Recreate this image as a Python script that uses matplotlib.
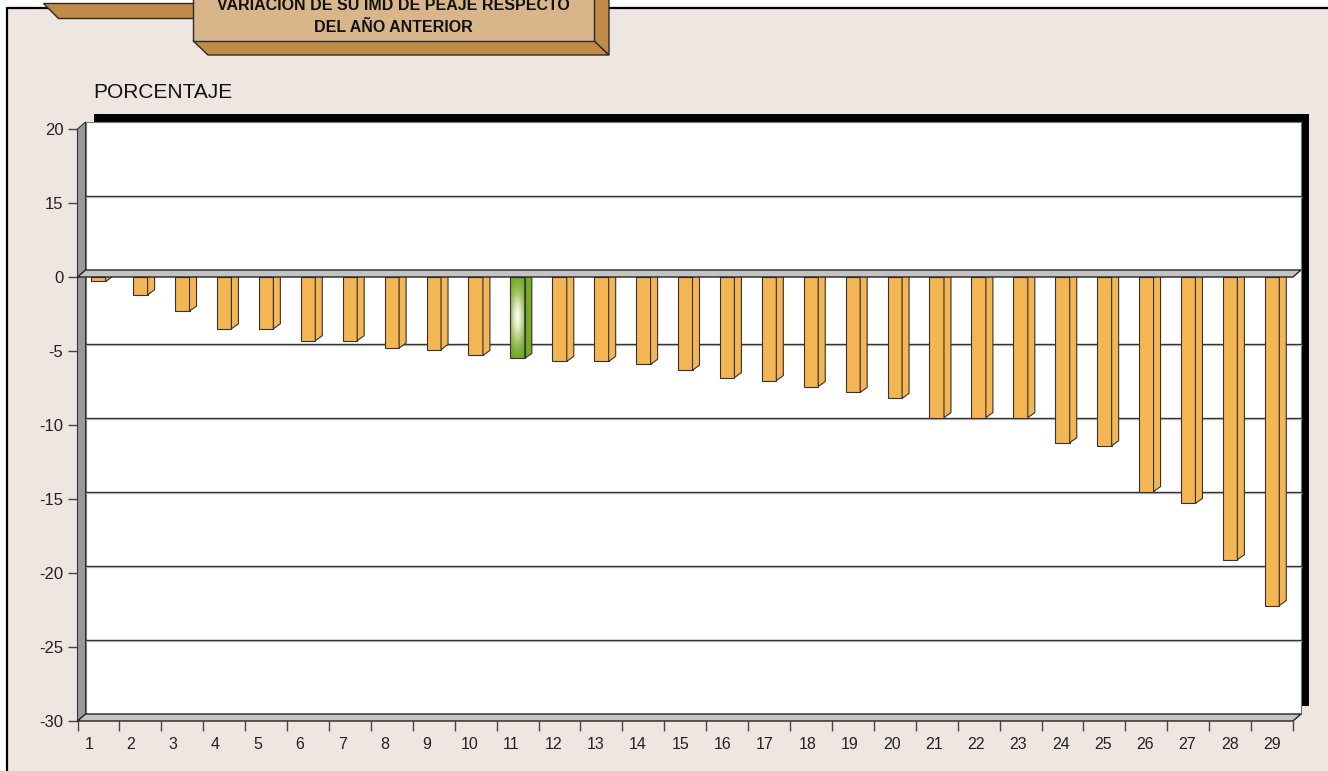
import numpy as np
import matplotlib.pyplot as plt
from matplotlib.patches import Polygon, Rectangle
from matplotlib.ticker import NullFormatter

plt.rcParams['font.family'] = ['Liberation Sans', 'DejaVu Sans']

# Data
categories = list(range(1, 30))
values = [-0.3, -1.2, -2.3, -3.5, -3.5, -4.3, -4.3, -4.8, -4.9, -5.3,
          -5.5, -5.7, -5.7, -5.9, -6.3, -6.8, -7.0, -7.4, -7.8, -8.2,
          -9.5, -9.5, -9.5, -11.2, -11.4, -14.5, -15.3, -19.1, -22.2]
highlight = 11
y_ticks = [10, 5, 0, -5, -10, -15, -20, -25, -30]
y_tick_labels = ['20', '15', '0', '-5', '-10', '-15', '-20', '-25', '-30']
grid_levels = [5, -5, -10, -15, -20, -25]
title_lines = ['VARIACION DE SU IMD DE PEAJE RESPECTO', 'DEL AÑO ANTERIOR']
y_title = 'PORCENTAJE'

# Colors
pink = '#EFE6E2'
tab_c = '#C08A48'
box_c = '#D9B68A'
bar_c = '#F4B553'
edge = '#2a2a2a'

W, H = 1328, 771
fig = plt.figure(figsize=(W / 100, H / 100), dpi=100)
fig.patch.set_facecolor('white')

# Background layer in pixel coordinates (origin top-left)
bg = fig.add_axes([0, 0, 1, 1])
bg.set_xlim(0, W)
bg.set_ylim(H, 0)
bg.axis('off')

bg.add_patch(Rectangle((7, 8), W, H, fc=pink, ec='black', lw=1.6))

# Title banner
bg.add_patch(Polygon([(43, 3), (200, 3), (200, 18), (58, 18)], fc=tab_c, ec=edge, lw=1))
bg.add_patch(Polygon([(193, 40.7), (594, 40.7), (609, 55), (208, 55)], fc=tab_c, ec=edge, lw=1))
bg.add_patch(Polygon([(594, -5), (609, -5), (609, 55), (594, 40.7)], fc=tab_c, ec=edge, lw=1))
bg.add_patch(Rectangle((193, -5), 401, 45.7, fc=box_c, ec=edge, lw=1))
bg.text(393, 9.5, title_lines[0], ha='center', va='baseline', fontsize=11.5,
        fontweight='bold', color='#111')
bg.text(393, 32, title_lines[1], ha='center', va='baseline', fontsize=11.5,
        fontweight='bold', color='#111')
bg.text(93, 92, y_title, ha='left', va='center', fontsize=15, color='#111')

# Chart axes = front plane of the 3D box
x0, x1, y_top, y_bot = 77.5, 1293, 129, 721
ax = fig.add_axes([x0 / W, (H - y_bot) / H, (x1 - x0) / W, (y_bot - y_top) / H])
ax.set_facecolor('none')
for s in ax.spines.values():
    s.set_visible(False)

px_x = (x1 - x0) / 29
px_y = (y_bot - y_top) / 40
dx, dy = 8 / px_x, 7 / px_y          # depth of walls
sdx, sdy = 7 / px_x, 5 / px_y        # depth of bars
w = 14.5 / px_x

# shadow + back wall
ax.add_patch(Rectangle((0.5 + 16 / px_x, -30 + 15 / px_y), 29, 40, fc='black',
                       ec='none', clip_on=False, zorder=1))
ax.add_patch(Rectangle((0.5 + dx, -30 + dy), 29, 40, fc='white', ec='#777',
                       lw=0.8, clip_on=False, zorder=2))
for g in grid_levels:
    ax.plot([0.5 + dx, 29.5 + dx], [g + dy - 1.2 / px_y] * 2, color='#c8c8c8',
            lw=1, zorder=3, clip_on=False)
    ax.plot([0.5 + dx, 29.5 + dx], [g + dy] * 2, color='#333', lw=1,
            zorder=3, clip_on=False)

# left wall and floor
ax.add_patch(Polygon([(0.5, -30), (0.5, 10), (0.5 + dx, 10 + dy), (0.5 + dx, -30 + dy)],
                     fc='#999999', ec='#333', lw=0.8, clip_on=False, zorder=4))
ax.add_patch(Polygon([(0.5, -30), (29.5, -30), (29.5 + dx, -30 + dy), (0.5 + dx, -30 + dy)],
                     fc='#C4C4C4', ec='#222', lw=1, clip_on=False, zorder=4.5))

# bars
for c, v in zip(categories, values):
    left, right = c - w / 2, c + w / 2
    if c == highlight:
        yy, xx = np.mgrid[0:1:200j, 0:1:60j]
        glow = np.exp(-((xx - 0.5) / 0.45) ** 2 - ((yy - 0.5) / 0.32) ** 2)
        green = np.array([0.42, 0.64, 0.10])
        light = np.array([0.98, 0.98, 0.92])
        img = green + (light - green) * glow[..., None]
        ax.imshow(img, extent=[left, right, v, 0], aspect='auto', zorder=5,
                  interpolation='bilinear')
        ax.add_patch(Rectangle((left, v), w, -v, fc='none', ec='#333', lw=0.8, zorder=5.1))
        side_c = '#76AA24'
    else:
        ax.add_patch(Rectangle((left, v), w, -v, fc=bar_c, ec='#333', lw=0.8, zorder=5))
        side_c = bar_c
    ax.add_patch(Polygon([(right, v), (right + sdx, v + sdy), (right + sdx, sdy), (right, 0)],
                         fc=side_c, ec='#333', lw=0.8, zorder=5))

# zero slab
ax.add_patch(Polygon([(0.5, 0), (29.5, 0), (29.5 + dx, dy), (0.5 + dx, dy)],
                     fc='#C4C4C4', ec='#222', lw=1, clip_on=False, zorder=6))

ax.set_xlim(0.5, 29.5)
ax.set_ylim(-30, 10)

ax.set_yticks(y_ticks, y_tick_labels)
ax.tick_params(axis='y', length=7.2, width=1, color='#444', pad=3,
               labelsize=12, labelcolor='#222')

ax.set_xticks(np.arange(0.5, 30, 1))
ax.xaxis.set_major_formatter(NullFormatter())
ax.tick_params(axis='x', which='major', length=7.2, width=1, color='#444')
label_pos = np.linspace(0.77, 29.0, len(categories))
ax.set_xticks(label_pos, [str(c) for c in categories], minor=True)
ax.tick_params(axis='x', which='minor', length=0, pad=11.5, labelsize=11.5,
               labelcolor='#222')

fig.savefig('out.png', dpi=100, facecolor=fig.get_facecolor())
